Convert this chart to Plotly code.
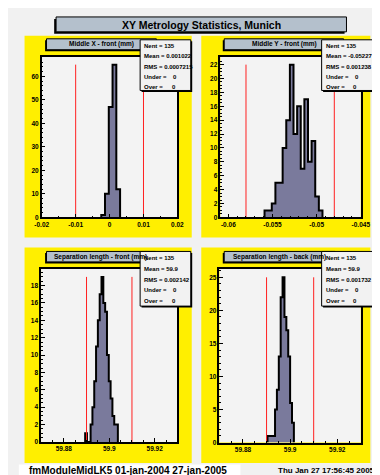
import plotly.graph_objects as go

W, H = 380, 475

# ---------------- data ----------------
main_title = "XY Metrology Statistics, Munich"
footer_left = "fmModuleMidLK5 01-jan-2004 27-jan-2005"
footer_right = "Thu Jan 27 17:56:45 2005"

# Panel 1: Middle X - front (mm)
mx_title = "Middle X - front (mm)"
mx_edges = [-0.00245, -0.00134, -0.00023, 0.00088, 0.00199, 0.0031]
mx_counts = [1, 10, 47, 65, 12]
mx_limits = [-0.01, 0.01]
mx_xticks = [-0.02, -0.01, 0, 0.01, 0.02]
mx_xticktext = ["-0.02", "-0.01", "0", "0.01", "0.02"]
mx_stats = ["135", "0.001022", "0.0007215", "0", "0"]

# Panel 2: Middle Y - front (mm)
my_title = "Middle Y - front (mm)"
my_edges = [-0.0559, -0.05549, -0.05508, -0.05467, -0.05426, -0.05385, -0.05344,
            -0.05303, -0.05262, -0.05221, -0.0518, -0.05139, -0.05098, -0.05057,
            -0.05016, -0.04975, -0.04934]
my_counts = [1, 1, 2, 5, 5, 10, 14, 22, 12, 16, 7, 17, 8, 11, 3, 1]
my_limits = [-0.058, -0.048]
my_xticks = [-0.06, -0.055, -0.05, -0.045]
my_xticktext = ["-0.06", "-0.055", "-0.05", "-0.045"]
my_stats = ["135", "-0.05227", "0.001238", "0", "0"]

# Panel 3: Separation length - front (mm)
sf_title = "Separation length - front (mm)"
sf_edges = [59.8894, 59.8902, 59.8910, 59.8918, 59.8926, 59.8934, 59.8942, 59.8950,
            59.8958, 59.8966, 59.8974, 59.8982, 59.8990, 59.8998, 59.9006, 59.9014,
            59.9022, 59.9030, 59.9038]
sf_counts = [1, 0, 0, 2, 4, 7, 11, 14, 17, 19, 16, 15, 10, 7, 5, 3, 2, 2]
sf_limits = [59.89, 59.91]
sf_xticks = [59.88, 59.9, 59.92]
sf_xticktext = ["59.88", "59.9", "59.92"]
sf_stats = ["135", "59.9", "0.002142", "0", "0"]

# Panel 4: Separation length - back (mm)
sb_title = "Separation length - back (mm)"
sb_edges = [59.8904, 59.8912, 59.8920, 59.8928, 59.8936, 59.8944, 59.8952, 59.8960,
            59.8968, 59.8976, 59.8984, 59.8992, 59.9000, 59.9008, 59.9016]
sb_counts = [1, 1, 1, 1, 5, 8, 13, 22, 25, 19, 17, 13, 6, 3]
sb_limits = [59.89, 59.91]
sb_xticks = [59.88, 59.9, 59.92]
sb_xticktext = ["59.88", "59.9", "59.92"]
sb_stats = ["135", "59.9", "0.001732", "0", "0"]

# ---------------- style / geometry ----------------
FONT = "Liberation Sans, Arial, sans-serif"
YELLOW = "#ffef00"
HIST = "#7a7a9c"
BOXBLUE = "#b4c0cc"
FRAMEBG = "#f3f3f3"
PAPERBG = "#f1f1f1"

panels = [
    dict(title=mx_title, edges=mx_edges, counts=mx_counts, limits=mx_limits,
         xticks=mx_xticks, xticktext=mx_xticktext, stats=mx_stats,
         xrange=[-0.02, 0.02], xminor=0.005, xminor0=-0.02, ydtick=10, yminor=2,
         pad=(10, 28, 185, 231), frame=(28, 49.3, 170, 210.7),
         tbox=(33, 31, 148, 42), tcx=90.7, sbox=(131, 32, 184, 83),
         lines=[38.3, 48.8, 59.2, 69.4, 79.4]),
    dict(title=my_title, edges=my_edges, counts=my_counts, limits=my_limits,
         xticks=my_xticks, xticktext=my_xticktext, stats=my_stats,
         xrange=[-0.0609, -0.045], xminor=0.001, xminor0=-0.06, ydtick=2, yminor=0.5,
         pad=(195, 28, 372, 231), frame=(215, 49.3, 362, 210.7),
         tbox=(219, 31, 344, 42), tcx=281.7, sbox=(321, 32, 376, 83),
         lines=[38.3, 48.8, 59.2, 69.4, 79.4]),
    dict(title=sf_title, edges=sf_edges, counts=sf_counts, limits=sf_limits,
         xticks=sf_xticks, xticktext=sf_xticktext, stats=sf_stats,
         xrange=[59.87, 59.93], xminor=0.005, xminor0=59.87, ydtick=2, yminor=0.5,
         pad=(10, 241, 185, 458), frame=(27.3, 262.3, 170, 436.7),
         tbox=(33, 245, 147, 255.5), tcx=90, sbox=(131, 245, 184, 300),
         lines=[251.7, 262.5, 273.3, 284.1, 294.9]),
    dict(title=sb_title, edges=sb_edges, counts=sb_counts, limits=sb_limits,
         xticks=sb_xticks, xticktext=sb_xticktext, stats=sb_stats,
         xrange=[59.87, 59.93], xminor=0.005, xminor0=59.87, ydtick=5, yminor=1,
         pad=(195, 241, 372, 458), frame=(214, 262.7, 362, 437.3),
         tbox=(219, 245, 335, 255.5), tcx=277, sbox=(321, 245, 376, 300),
         lines=[251.7, 262.5, 273.3, 284.1, 294.9]),
]


def fx(px):
    return px / W


def fy(py):
    return 1 - py / H


fig = go.Figure()
shapes = []
annotations = []
layout_axes = {}


def rect(x0, y0, x1, y1, fill, line_color=None, lw=0, layer="above"):
    d = dict(type="rect", xref="paper", yref="paper",
             x0=fx(x0), x1=fx(x1), y0=fy(y1), y1=fy(y0),
             fillcolor=fill, layer=layer,
             line=dict(color=line_color or fill, width=lw))
    return d


def ann(text, px, py, size, xanchor="left", weight="bold"):
    return dict(text=text, x=fx(px), y=fy(py), xref="paper", yref="paper",
                xanchor=xanchor, yanchor="middle", showarrow=False,
                font=dict(family=FONT, size=size, color="black", weight=weight))


for i, p in enumerate(panels):
    n = i + 1
    xa = "x" if n == 1 else f"x{n}"
    ya = "y" if n == 1 else f"y{n}"
    edges, counts = p["edges"], p["counts"]
    xs = [edges[0]]
    ys = [0]
    for k, c in enumerate(counts):
        xs += [edges[k], edges[k + 1]]
        ys += [c, c]
    xs.append(edges[-1])
    ys.append(0)
    fig.add_trace(go.Scatter(x=xs, y=ys, mode="lines", fill="toself",
                             fillcolor=HIST, line=dict(color="black", width=2),
                             xaxis=xa, yaxis=ya, hoverinfo="skip", showlegend=False))
    ymax = max(counts)
    for lim in p["limits"]:
        fig.add_trace(go.Scatter(x=[lim, lim], y=[0, ymax], mode="lines",
                                 line=dict(color="#ff2020", width=1),
                                 xaxis=xa, yaxis=ya, hoverinfo="skip", showlegend=False))

    fr = p["frame"]
    tickfont = dict(family=FONT, size=6.5, color="black", weight="bold")
    layout_axes["xaxis" if n == 1 else f"xaxis{n}"] = dict(
        domain=[fx(fr[0]), fx(fr[2])], anchor=ya, range=p["xrange"],
        tickmode="array", tickvals=p["xticks"], ticktext=p["xticktext"],
        ticks="inside", ticklen=4, tickwidth=1, tickcolor="black",
        showline=True, linecolor="black", linewidth=1.5, mirror=True,
        showgrid=False, zeroline=False, tickfont=tickfont,
        minor=dict(ticks="inside", ticklen=2, tickcolor="black",
                   dtick=p["xminor"], tick0=p["xminor0"], showgrid=False),
    )
    layout_axes["yaxis" if n == 1 else f"yaxis{n}"] = dict(
        domain=[fy(fr[3]), fy(fr[1])], anchor=xa, range=[0, ymax * 1.05],
        dtick=p["ydtick"], tick0=0,
        ticks="inside", ticklen=4, tickwidth=1, tickcolor="black",
        showline=True, linecolor="black", linewidth=1.5, mirror=True,
        showgrid=False, zeroline=False, tickfont=tickfont,
        minor=dict(ticks="inside", ticklen=2, tickcolor="black",
                   dtick=p["yminor"], tick0=0, showgrid=False),
    )

    # yellow pad and the light frame fill on top of it
    shapes.append(rect(*p["pad"], YELLOW, layer="below"))
    shapes.append(rect(*fr, FRAMEBG, layer="below"))
    # histogram title box (shadow left-bottom)
    tb = p["tbox"]
    shapes.append(rect(tb[0] - 1.5, tb[1] + 1.5, tb[2] - 1.5, tb[3] + 1.5, "black"))
    shapes.append(rect(*tb, BOXBLUE, "black", 1))
    annotations.append(ann(p["title"], p["tcx"], (tb[1] + tb[3]) / 2, 6.5, "center"))
    # stats box (shadow right-bottom)
    sb = p["sbox"]
    shapes.append(rect(sb[0] + 1.5, sb[1] + 1.5, sb[2] + 1.5, sb[3] + 1.5, "black"))
    shapes.append(rect(*sb, "#f2f2f2", "black", 1))
    st = p["stats"]
    L = p["lines"]
    lx = sb[0] + 2.3
    annotations.append(ann(f"Nent = {st[0]}", lx, L[0], 6))
    annotations.append(ann(f"Mean = {st[1]}", lx, L[1], 6))
    annotations.append(ann(f"RMS = {st[2]}", lx, L[2], 6))
    annotations.append(ann("Under =", lx, L[3], 6))
    annotations.append(ann(st[3], sb[0] + 37, L[3], 6, "center"))
    annotations.append(ann("Over =", lx, L[4], 6))
    annotations.append(ann(st[4], sb[0] + 35, L[4], 6, "center"))

# main title box
shapes.append(rect(43 - 2, 9 + 2, 347 - 2, 24 + 2, "black"))
shapes.append(rect(43, 9, 347, 24, BOXBLUE, "black", 1))
annotations.append(ann(main_title, 195, 16.7, 10.5, "center"))

# footer
shapes.append(rect(4, 459.5, 236, 475, "white", layer="below"))
annotations.append(ann(footer_left, 13, 465.5, 10))
annotations.append(ann(footer_right, 379, 465.5, 8, "right"))

fig.update_layout(
    width=W, height=H, margin=dict(l=0, r=0, t=0, b=0),
    paper_bgcolor=PAPERBG, plot_bgcolor=FRAMEBG,
    shapes=shapes, annotations=annotations, showlegend=False,
    **layout_axes,
)

fig.write_html("out.html")
